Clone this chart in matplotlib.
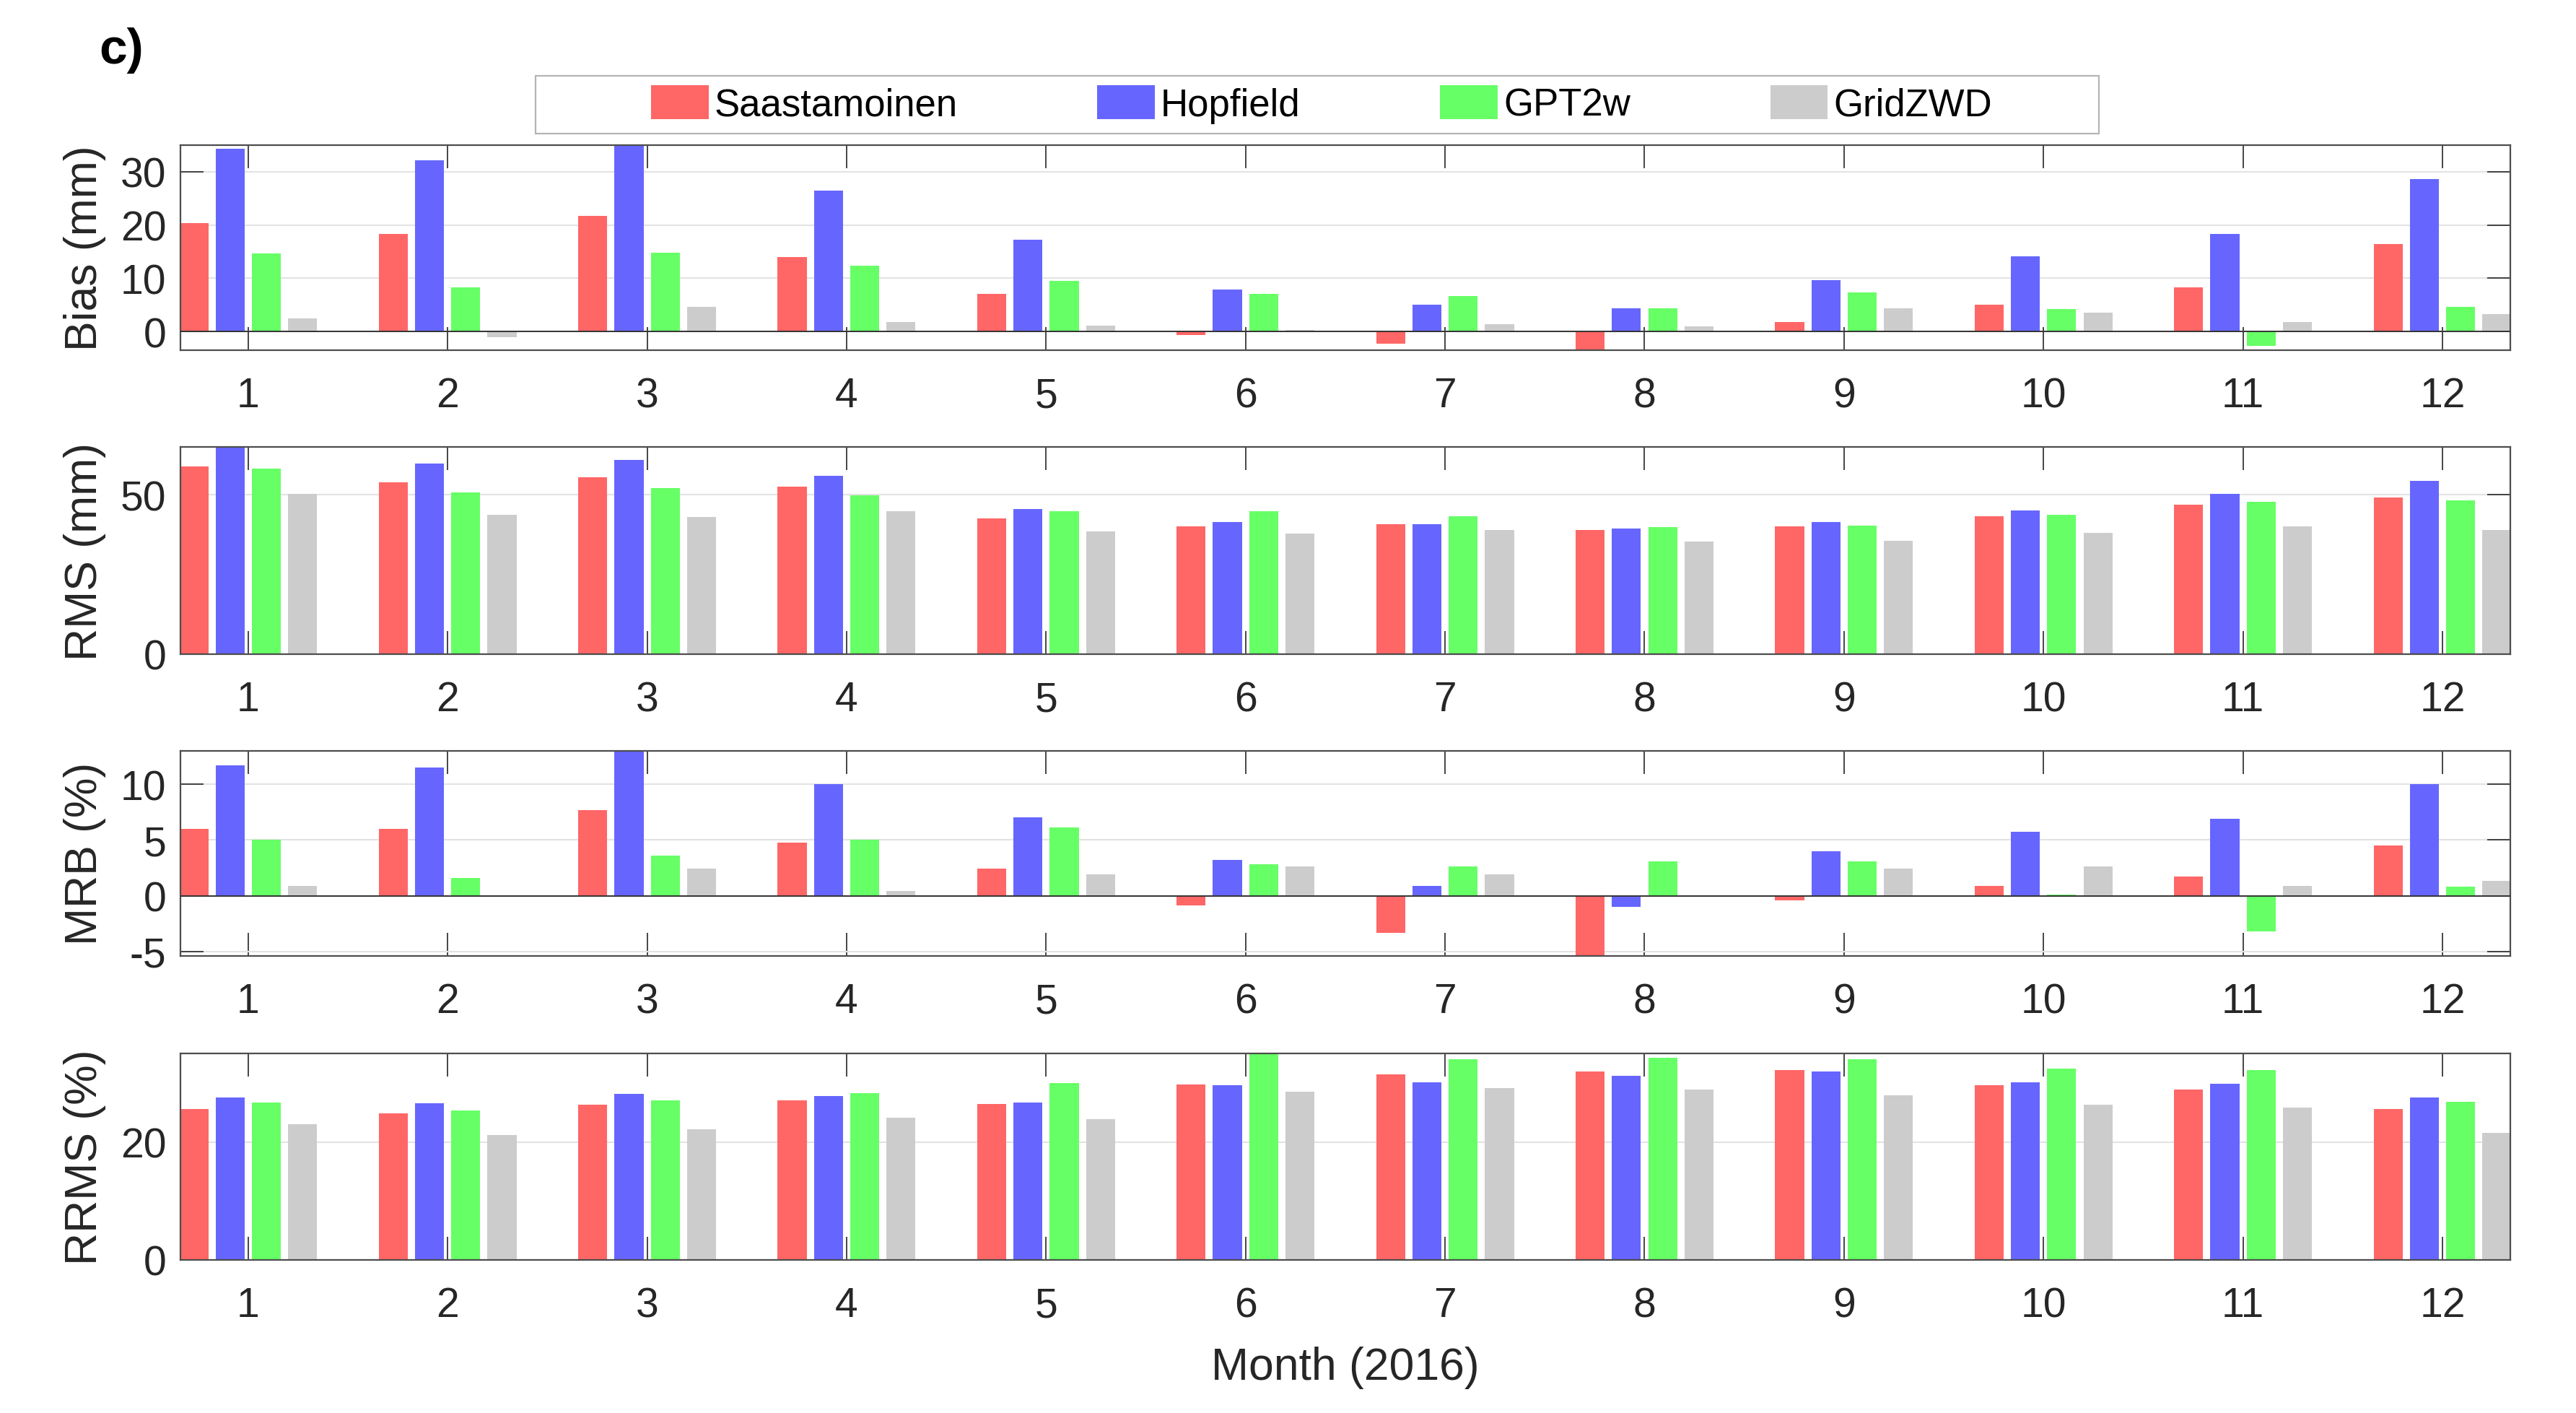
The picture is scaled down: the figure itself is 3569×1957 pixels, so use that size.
import numpy as np
import matplotlib
matplotlib.use("Agg")
import matplotlib.pyplot as plt
from matplotlib.patches import Rectangle

plt.rcParams['font.family'] = ['Liberation Sans', 'DejaVu Sans']
plt.rcParams['axes.unicode_minus'] = False

# Data
months = np.arange(1, 13)
models = ['Saastamoinen', 'Hopfield', 'GPT2w', 'GridZWD']
colors = ['#ff6666', '#6666ff', '#66ff66', '#cccccc']

bias_saas = [20.4, 18.3, 21.7, 14.0, 7.1, -0.6, -2.3, -3.6, 1.8, 5.1, 8.3, 16.4]
bias_hopf = [34.3, 32.2, 36.0, 26.5, 17.2, 7.9, 5.1, 4.3, 9.6, 14.1, 18.3, 28.6]
bias_gpt = [14.7, 8.3, 14.8, 12.4, 9.5, 7.1, 6.7, 4.3, 7.3, 4.2, -2.7, 4.7]
bias_grid = [2.4, -1.0, 4.7, 1.8, 1.1, 0.3, 1.4, 1.0, 4.3, 3.6, 1.8, 3.3]

rms_saas = [59.0, 54.0, 55.4, 52.6, 42.6, 40.2, 40.8, 38.9, 40.2, 43.2, 47.0, 49.2]
rms_hopf = [66.0, 59.7, 61.0, 55.9, 45.5, 41.4, 40.8, 39.4, 41.4, 45.1, 50.2, 54.4]
rms_gpt = [58.3, 50.8, 52.1, 49.8, 44.9, 44.9, 43.2, 39.9, 40.3, 43.7, 47.8, 48.3]
rms_grid = [50.3, 43.7, 43.1, 44.9, 38.5, 37.9, 38.9, 35.3, 35.6, 38.0, 40.0, 38.9]

mrb_saas = [6.0, 6.0, 7.7, 4.75, 2.4, -0.9, -3.3, -5.8, -0.4, 0.9, 1.7, 4.5]
mrb_hopf = [11.7, 11.5, 13.5, 10.0, 7.0, 3.2, 0.9, -1.0, 4.0, 5.7, 6.9, 10.0]
mrb_gpt = [5.0, 1.6, 3.6, 5.0, 6.1, 2.8, 2.6, 3.1, 3.1, 0.1, -3.2, 0.8]
mrb_grid = [0.9, 0.05, 2.4, 0.4, 1.9, 2.6, 1.9, 0.05, 2.4, 2.6, 0.9, 1.3]

rrms_saas = [25.6, 24.8, 26.3, 27.0, 26.5, 29.8, 31.4, 31.9, 32.2, 29.6, 28.9, 25.6]
rrms_hopf = [27.5, 26.6, 28.1, 27.8, 26.7, 29.6, 30.1, 31.2, 31.9, 30.1, 29.9, 27.6]
rrms_gpt = [26.7, 25.3, 27.0, 28.3, 30.0, 35.5, 34.0, 34.3, 34.0, 32.4, 32.2, 26.8]
rrms_grid = [23.0, 21.2, 22.2, 24.1, 23.9, 28.5, 29.1, 28.9, 27.9, 26.3, 25.8, 21.6]

panels = [
    ('Bias (mm)', [bias_saas, bias_hopf, bias_gpt, bias_grid], (-3.5, 35), [0, 10, 20, 30]),
    ('RMS (mm)', [rms_saas, rms_hopf, rms_gpt, rms_grid], (0, 65), [0, 50]),
    ('MRB (%)', [mrb_saas, mrb_hopf, mrb_gpt, mrb_grid], (-5.4, 13), [-5, 0, 5, 10]),
    ('RRMS (%)', [rrms_saas, rrms_hopf, rrms_gpt, rrms_grid], (0, 35), [0, 20]),
]

# axes positions [left, bottom, width, height] in figure fraction
positions = [
    [0.0700, 0.7518, 0.9045, 0.1450],
    [0.0700, 0.5368, 0.9045, 0.1465],
    [0.0700, 0.3233, 0.9045, 0.1452],
    [0.0700, 0.1083, 0.9045, 0.1460],
]

tick_fs = 41
label_fs = 45
legend_fs = 38
text_col = '#262626'
spine_col = '#4d4d4d'

fig = plt.figure(figsize=(35.69, 19.58), dpi=100)

# grouped bar geometry (MATLAB style)
n = len(models)
group_w = min(0.8, n / (n + 1.5))
step = group_w / n
bar_w = 0.8 * step
offsets = (np.arange(n) - (n - 1) / 2) * step

axes = []
for (ylabel, series, ylim, yticks), pos in zip(panels, positions):
    ax = fig.add_axes(pos)
    for vals, off, c, name in zip(series, offsets, colors, models):
        ax.bar(months + off, vals, width=bar_w, color=c, edgecolor='none',
               label=name, zorder=2)
    if ylim[0] < 0:
        ax.axhline(0, color='#333333', lw=1.4, zorder=3)
    ax.set_xlim(0.66, 12.34)
    ax.set_ylim(*ylim)
    ax.set_xticks(months)
    ax.set_yticks(yticks)
    ax.set_axisbelow(True)
    ax.yaxis.grid(True, color='#e3e3e3', lw=1.5)
    ax.tick_params(axis='x', direction='in', top=True, bottom=True,
                   length=23, width=1.2, color=text_col, pad=26,
                   labelsize=tick_fs, labelcolor=text_col)
    ax.tick_params(axis='y', direction='in', left=True, right=True,
                   length=23, width=1.2, color=text_col, pad=14,
                   labelsize=tick_fs, labelcolor=text_col)
    for s in ax.spines.values():
        s.set_color(spine_col)
        s.set_linewidth(1.6)
    ax.set_ylabel(ylabel, fontsize=label_fs, color=text_col, va='center')
    ax.yaxis.set_label_coords(-0.041, 0.5)
    axes.append(ax)

axes[-1].set_xlabel('Month (2016)', fontsize=label_fs, color=text_col, va='center')
axes[-1].xaxis.set_label_coords(0.5, -0.52)

# panel tag
fig.text(0.0384, 0.955, 'c)', fontsize=50, fontweight='bold', color='black',
         ha='left', va='baseline')

# legend with separate frame
handles, labels = axes[0].get_legend_handles_labels()
fig.legend(handles, labels, loc='center', bbox_to_anchor=(0.513, 0.9257),
           ncol=4, frameon=False, fontsize=legend_fs,
           handlelength=1.51, handleheight=0.98, handletextpad=0.15,
           columnspacing=3.67, labelcolor='black')
fig.patches.append(Rectangle((0.2079, 0.905), 0.607, 0.041,
                             transform=fig.transFigure, fill=False,
                             edgecolor='#b5b5b5', lw=1.6))

fig.savefig('out.png', dpi=100)
